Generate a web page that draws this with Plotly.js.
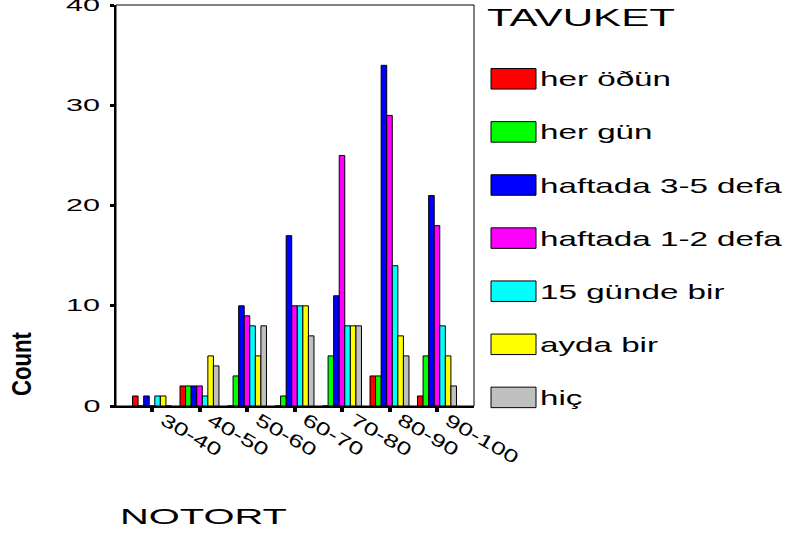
<!DOCTYPE html>
<html>
<head>
<meta charset="utf-8">
<script src="https://cdn.plot.ly/plotly-3.0.1.min.js"></script>
<style>
  html, body { margin: 0; padding: 0; background: #ffffff; }
  #chart { width: 789px; height: 538px; }
</style>
</head>
<body>
<div id="chart"></div>
<script>
// ---- data ----
const categories = ['30-40', '40-50', '50-60', '60-70', '70-80', '80-90', '90-100'];
const seriesNames = ['her öðün', 'her gün', 'haftada 3-5 defa', 'haftada 1-2 defa', '15 günde bir', 'ayda bir', 'hiç'];
const herOgun   = [1, 2, 0, 0, 0, 3, 1];
const herGun    = [0, 2, 3, 1, 5, 3, 5];
const haftada35 = [1, 2, 10, 17, 11, 34, 21];
const haftada12 = [0, 2, 9, 10, 25, 29, 18];
const gunde15   = [1, 1, 8, 10, 8, 14, 8];
const aydaBir   = [1, 5, 5, 10, 8, 7, 5];
const hic       = [0, 4, 8, 7, 8, 5, 2];
const yTickVals = [0, 10, 20, 30, 40];
const yTickText = ['0', '10', '20', '30', '40'];
const seriesColors = ['#FF0000', '#00FF00', '#0000FF', '#FF00FF', '#00FFFF', '#FFFF00', '#C0C0C0'];
const legendTitle = 'TAVUKET';
const xTitle = 'NOTORT';
const yTitle = 'Count';

const seriesValues = [herOgun, herGun, haftada35, haftada12, gunde15, aydaBir, hic];

// ---- layout geometry (pixels) ----
const W = 789, H = 538;
const plotL = 116, plotR = 474, plotT = 5, plotB = 406;
const px2x = p => (p - plotL) / (plotR - plotL);
const px2y = p => (plotB - p) / (plotB - plotT);
const FONT = 'Liberation Sans, Arial, sans-serif';

// measure text widths for the stretched SPSS-like lettering
const mctx = document.createElement('canvas').getContext('2d');
function textW(str, size, weight) {
  mctx.font = (weight || 'normal') + ' ' + size + 'px "Liberation Sans", Arial, sans-serif';
  return mctx.measureText(str).width;
}

const traces = seriesValues.map((vals, i) => ({
  type: 'bar',
  name: seriesNames[i],
  x: categories,
  y: vals,
  marker: { color: seriesColors[i], line: { color: '#000000', width: 1 } },
  hoverinfo: 'none'
}));

const shapes = [{
  type: 'rect', xref: 'paper', yref: 'paper', x0: 0, x1: 1, y0: 0, y1: 1,
  line: { color: '#000000', width: 1 }, fillcolor: 'rgba(0,0,0,0)', layer: 'below'
}];
const annotations = [];
const stretchTargets = [];   // target text length (px) per annotation
const stretchOrigins = [];   // which side stays fixed if a CSS scale is needed

function addAnn(a, target, origin) {
  annotations.push(a); stretchTargets.push(target); stretchOrigins.push(origin || 'left');
}

// legend built from the series
const legTop = 78.8, legStep = 53.1, swL = 491, swR = 536, swH = 20.5, txtL = 540;
seriesNames.forEach((nm, i) => {
  const c = legTop + legStep * i;
  shapes.push({
    type: 'rect', xref: 'paper', yref: 'paper',
    x0: px2x(swL), x1: px2x(swR), y0: px2y(c + swH / 2), y1: px2y(c - swH / 2),
    line: { color: '#000000', width: 1 }, fillcolor: seriesColors[i]
  });
  addAnn({
    xref: 'paper', yref: 'paper', x: px2x(txtL), y: px2y(c),
    xanchor: 'left', yanchor: 'middle', align: 'left', showarrow: false,
    borderpad: 0, borderwidth: 0,
    text: nm, font: { family: FONT, size: 21, color: '#000000' }
  }, textW(nm, 21) * 1.58, 'left');
});
addAnn({
  xref: 'paper', yref: 'paper', x: px2x(487), y: px2y(18),
  xanchor: 'left', yanchor: 'middle', align: 'left', showarrow: false,
  borderpad: 0, borderwidth: 0,
  text: legendTitle, font: { family: FONT, size: 24, color: '#000000' }
}, 188, 'left');
addAnn({
  xref: 'paper', yref: 'paper', x: px2x(120), y: px2y(516),
  xanchor: 'left', yanchor: 'middle', align: 'left', showarrow: false,
  borderpad: 0, borderwidth: 0,
  text: xTitle, font: { family: FONT, size: 22, color: '#000000' }
}, 167, 'left');
addAnn({
  xref: 'paper', yref: 'paper', x: px2x(22), y: px2y(364),
  xanchor: 'center', yanchor: 'middle', showarrow: false, textangle: -90,
  borderpad: 0, borderwidth: 0,
  text: yTitle, font: { family: FONT, size: 27, color: '#000000', weight: 'bold' }
}, 64, 'center');

// y tick labels on the y scale, right-aligned at yLabRight
const yLabSize = 17, yLabStretch = 1.8, yLabRight = 100;
yTickVals.forEach((v, i) => {
  const L = textW(yTickText[i], yLabSize) * yLabStretch;
  addAnn({
    xref: 'paper', yref: 'y', x: px2x(yLabRight), y: v,
    xanchor: 'right', yanchor: 'middle', align: 'right', showarrow: false,
    borderpad: 0, borderwidth: 0,
    text: yTickText[i], font: { family: FONT, size: yLabSize, color: '#000000' }
  }, L, 'right');
});

// x tick labels on the category scale, slanted
const xLabSize = 18, xLabStretch = 1.45, xLabAngle = 30, xLabA = 10, xLabB = 12.5;
const rad = xLabAngle * Math.PI / 180;
categories.forEach(cat => {
  const L = textW(cat, xLabSize) * xLabStretch;
  const dx = xLabA + (L / 2) * Math.cos(rad);
  const dy = xLabB + (L / 2) * Math.sin(rad);
  addAnn({
    xref: 'x', yref: 'paper', x: cat, y: px2y(plotB + dy), xshift: dx,
    xanchor: 'center', yanchor: 'middle', align: 'center', showarrow: false,
    textangle: xLabAngle, borderpad: 0, borderwidth: 0,
    text: cat, font: { family: FONT, size: xLabSize, color: '#000000' }
  }, L, 'center');
});

const layout = {
  width: W, height: H,
  margin: { l: plotL, r: W - plotR, t: plotT, b: H - plotB, pad: 0 },
  paper_bgcolor: '#ffffff', plot_bgcolor: '#ffffff',
  showlegend: false,
  barmode: 'group', bargap: 0.18, bargroupgap: 0,
  font: { family: FONT, color: '#000000' },
  xaxis: {
    type: 'category', range: [-0.758, 6.779],
    showline: true, linewidth: 2, linecolor: '#000000',
    ticks: 'outside', ticklen: 4, tickwidth: 4, tickcolor: '#000000',
    showticklabels: false,
    showgrid: false, zeroline: false, fixedrange: true, automargin: false
  },
  yaxis: {
    range: [0, 40.02], tickmode: 'array', tickvals: yTickVals,
    showline: true, linewidth: 2, linecolor: '#000000',
    ticks: 'outside', ticklen: 4, tickwidth: 3, tickcolor: '#000000',
    showticklabels: false,
    showgrid: false, zeroline: false, fixedrange: true, automargin: false
  },
  shapes: shapes,
  annotations: annotations
};

// stretch with textLength; if the browser did not honour it, fall back to a CSS horizontal scale
function stretchText(el, target, origin) {
  if (el.getAttribute('data-stretched')) return;
  const L = el.getComputedTextLength();
  if (!L || !target) return;
  el.setAttribute('textLength', target.toFixed(1));
  el.setAttribute('lengthAdjust', 'spacingAndGlyphs');
  el.setAttribute('data-stretched', '1');
  let w = 0;
  try { w = el.getBBox().width; } catch (e) { w = 0; }
  if (w && Math.abs(w - target) > 2) {
    el.removeAttribute('textLength');
    el.removeAttribute('lengthAdjust');
    let w0 = 0;
    try { w0 = el.getBBox().width; } catch (e) { w0 = L; }
    if (!w0) w0 = L;
    el.style.transformBox = 'fill-box';
    el.style.transformOrigin = origin + ' center';
    el.style.transform = 'scaleX(' + (target / w0).toFixed(3) + ')';
  }
}

function applyStretch() {
  const gd = document.getElementById('chart');
  gd.querySelectorAll('.annotation').forEach((g, k) => {
    const idx = g.hasAttribute('data-index') ? parseInt(g.getAttribute('data-index'), 10) : k;
    const t = g.querySelector('.annotation-text');
    if (t) stretchText(t, stretchTargets[idx], stretchOrigins[idx]);
  });
}

const chartDiv = document.getElementById('chart');
new MutationObserver(() => applyStretch()).observe(chartDiv, { childList: true, subtree: true, characterData: true });

Plotly.newPlot(chartDiv, traces, layout, { displayModeBar: false, staticPlot: true }).then(gd => {
  applyStretch();
  gd.on('plotly_afterplot', applyStretch);
  [0, 30, 100, 250, 500].forEach(ms => setTimeout(applyStretch, ms));
});
</script>
</body>
</html>
